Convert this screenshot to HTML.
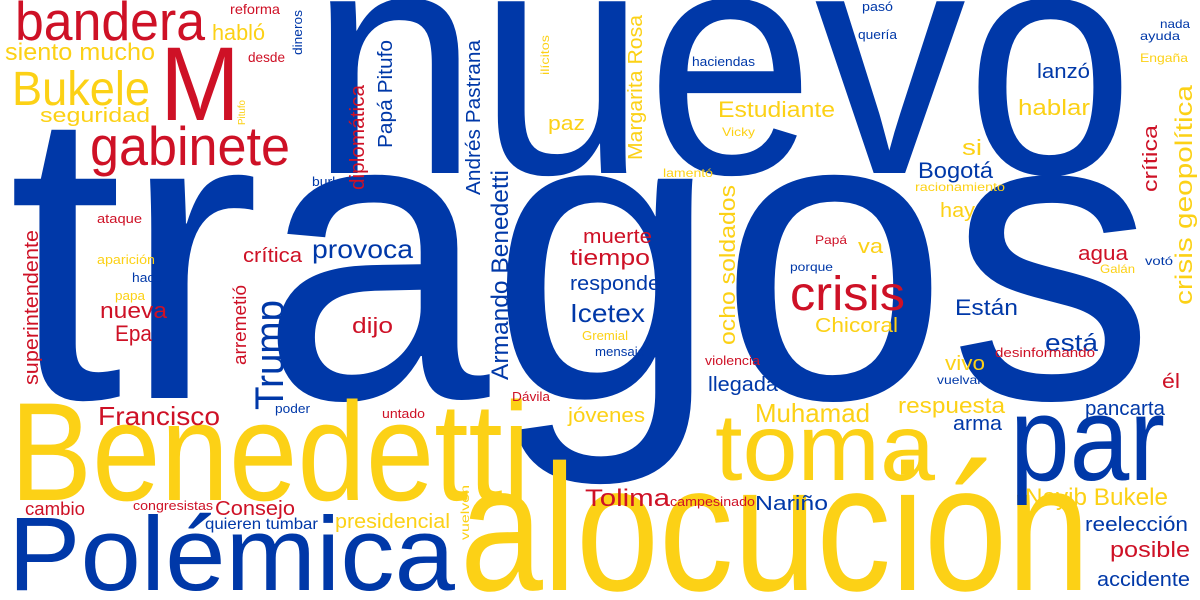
<!DOCTYPE html>
<html><head><meta charset="utf-8">
<style>
html,body{margin:0;padding:0;background:#fff;}
svg{display:block;}
text{font-family:"Liberation Sans",sans-serif;}
.b{fill:#0038A8}.y{fill:#FCD116}.r{fill:#CE1126}
</style></head>
<body>
<svg id="cloud" width="1200" height="600" viewBox="0 0 1200 600" xmlns="http://www.w3.org/2000/svg">
<rect width="1200" height="600" fill="#fff"/>
</svg>
<script>
const words = ["tragos","nuevo","Benedetti","alocución","Polémica","toma","par","bandera","M","Bukele","gabinete","siento mucho","seguridad","habló","reforma","desde","burla","ataque","aparición","hace","papa","nueva","Epa","crítica","provoca","dijo","Francisco","poder","untado","Dávila","paz","muerte","tiempo","responde","Icetex","Gremial","mensaje","haciendas","Estudiante","Vicky","lamentó","pasó","quería","lanzó","hablar","nada","ayuda","Engaña","si","Bogotá","racionamiento","hay","Papá","va","porque","crisis","Chicoral","agua","Galán","votó","Están","está","desinformando","violencia","llegada","vivo","vuelvan","él","Muhamad","respuesta","arma","pancarta","jóvenes","Tolima","campesinado","Nariño","Nayib Bukele","reelección","posible","accidente","cambio","congresistas","Consejo","quieren tumbar","presidencial",
"superintendente","arremetió","Trump","diplomática","Papá Pitufo","Andrés Pastrana","Armando Benedetti","ilícitos","Margarita Rosa","ocho soldados","crisis geopolítica","crítica","Pitufo","dineros","vuelven"];
const colors = ["b","b","y","y","b","y","b","r","r","y","r","y","y","y","r","r","b","r","y","b","y","r","r","r","b","r","r","b","r","r","y","r","r","b","b","y","b","b","y","y","y","b","b","b","y","b","b","y","y","b","y","y","r","y","b","r","y","r","y","b","b","b","r","r","b","y","b","r","y","y","b","b","y","r","r","b","y","b","r","b","r","r","r","b","y",
"r","r","b","r","b","b","b","y","y","y","y","r","y","b","y"];
const xs = [8,310,10,460,8,715,1010,15,160,12,90,5,40,212,230,248,312,97,97,132,115,100,115,243,312,352,98,275,382,512,548,583,570,570,570,582,595,692,718,722,663,862,858,1037,1018,1160,1140,1140,962,918,915,940,815,858,790,790,815,1078,1100,1145,955,1045,995,705,708,945,937,1162,755,898,953,1085,568,585,670,755,1025,1085,1110,1097,25,133,215,205,335,
38,246,283,364,392,480,508,549,642,735,1192,1157,245,302,469];
const ys = [398,173,500,590,590,480,480,40,120,105,165,60,122,40,14,62,186,223,264,282,300,318,341,262,258,333,425,413,418,401,130,243,265,290,322,340,356,66,117,136,177,11,39,78,115,28,40,62,155,178,191,217,244,253,271,310,332,260,273,265,315,351,357,365,391,370,384,388,422,413,430,415,422,506,506,510,505,531,557,586,515,510,515,529,528,
385,365,410,190,148,195,380,75,160,345,305,192,125,55,540];
const sizes = [415,325,140,180,105,95,120,55,105,48,55,24,20,22,14,14,13,13,13,13,13,22,22,20,26,22,26,13,13,13,20,20,22,20,26,13,13,13,22,12,12,13,13,20,22,12,12,12,22,22,12,20,12,20,12,48,20,20,12,12,22,24,13,13,20,20,12,20,26,22,20,20,20,24,13,20,24,20,22,20,18,13,20,16,20,
20,18,40,20,20,20,24,12,20,22,24,20,10,13,12];
const lens = [1147,824,520,630,447,220,155,190,80,138,200,150,110,53,50,37,31,45,58,30,30,67,37,59,101,41,122,35,43,38,37,69,80,90,75,46,50,63,117,33,50,31,39,53,72,30,40,48,20,75,90,35,32,25,43,115,83,50,35,28,63,53,100,55,70,40,48,18,115,107,49,80,77,85,85,73,143,103,80,93,60,80,80,113,115,
155,80,110,105,108,155,210,40,145,160,220,67,25,45,55];

const svg = document.getElementById('cloud');
const NS = 'http://www.w3.org/2000/svg';
for (let i = 0; i < words.length; i++) {
  const t = document.createElementNS(NS, 'text');
  
  
  t.setAttribute('class', colors[i]);
  t.setAttribute('font-size', sizes[i]);
  t.setAttribute('textLength', lens[i]);
  t.setAttribute('lengthAdjust', 'spacingAndGlyphs');
  if (i >= 85) {
    t.setAttribute('x', 0);
    t.setAttribute('y', 0);
    t.setAttribute('transform', 'translate(' + xs[i] + ',' + ys[i] + ') rotate(-90)');
  } else {
    t.setAttribute('x', xs[i]);
    t.setAttribute('y', ys[i]);
  }
  t.textContent = words[i];
  svg.appendChild(t);
}
</script>
</body></html>
